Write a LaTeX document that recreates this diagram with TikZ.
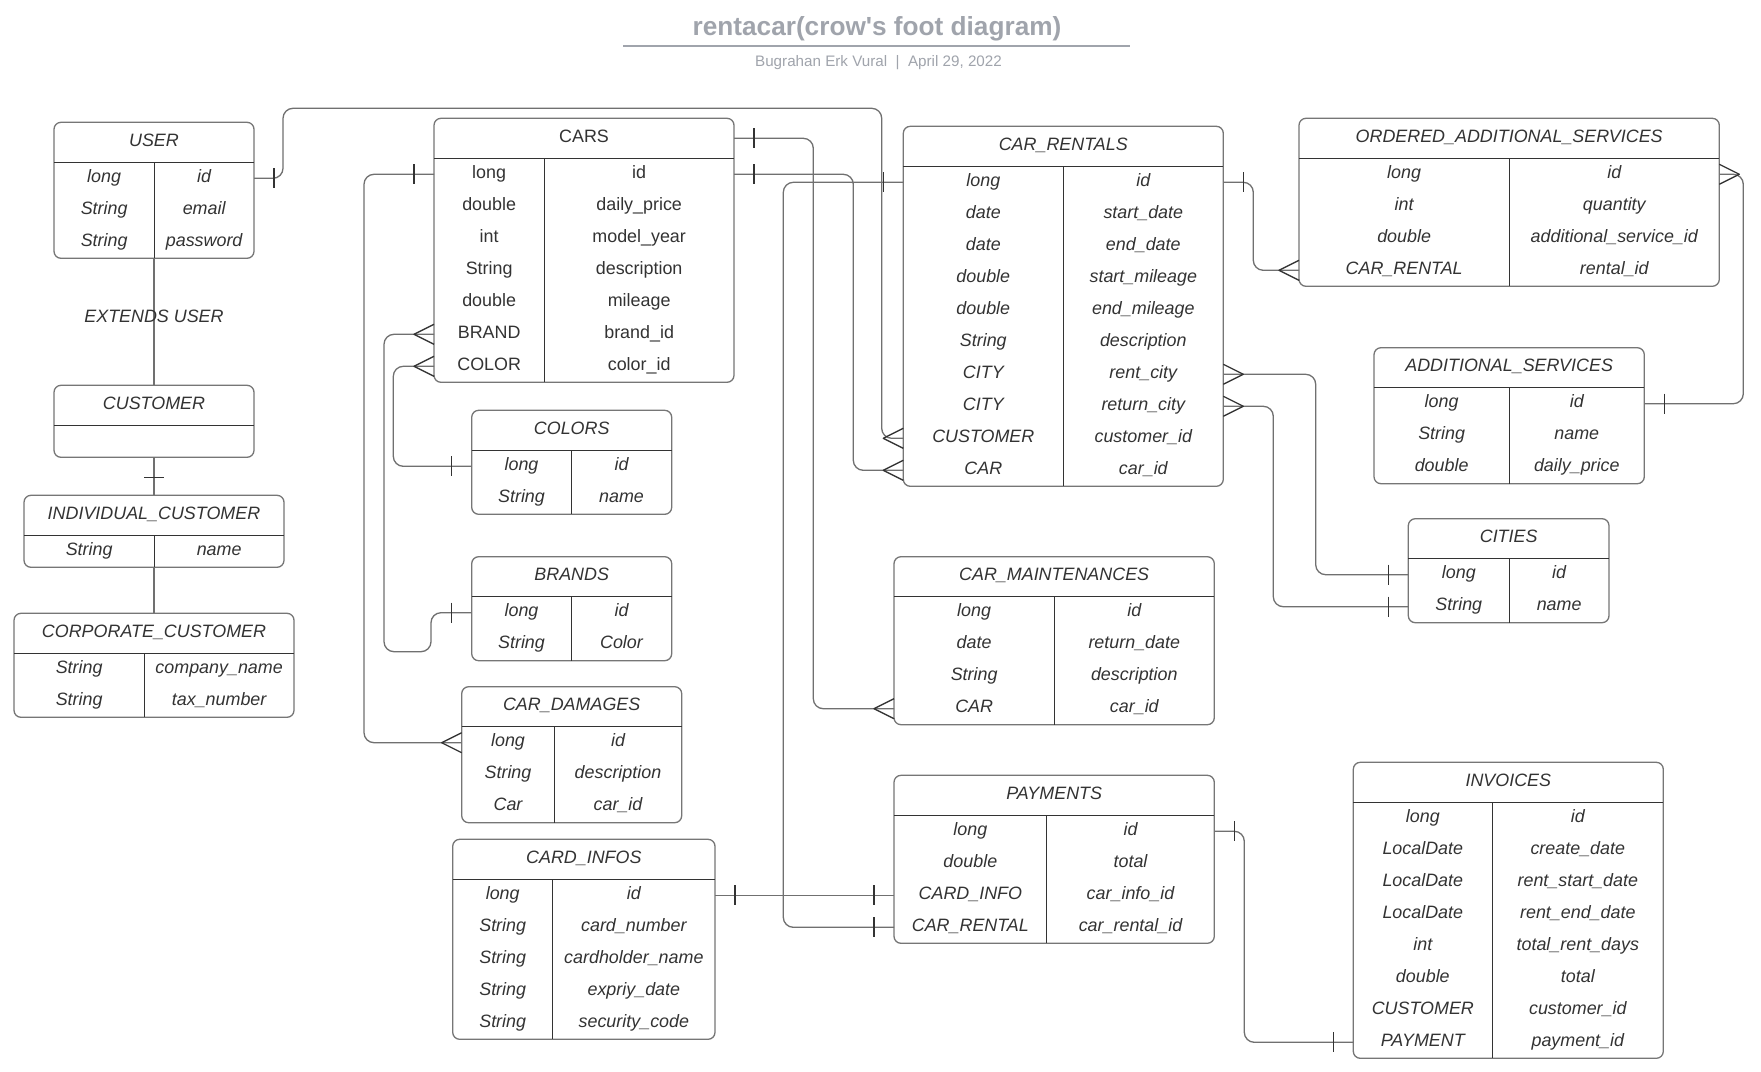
\documentclass[tikz,border=0pt]{standalone}
\usepackage{fontspec}
\setmainfont{Liberation Sans}

\definecolor{titlegray}{RGB}{160,164,172}
\definecolor{framegray}{RGB}{118,118,118}
\definecolor{inkgray}{RGB}{51,51,51}
\definecolor{wiregray}{RGB}{112,112,112}

\newcommand{\tabfont}{\fontsize{17.9}{21}\selectfont}

\newcommand{\enttable}[9][\itshape]{%
    \draw[boxframe] (#3,#4) rectangle (#5,#4+40+32*#7);
    \draw[boxrule] (#3,#4+40) -- (#5,#4+40);
    \draw[boxrule] (#6,#4+40) -- (#6,#4+40+32*#7);
    \node[celltext] (#2) at ({(#3+#5)/2},#4+24) {#1#8};
    \coordinate (#2-lh) at (#3,#4+20);
    \coordinate (#2-rh) at (#5,#4+20);
    \coordinate (#2-n) at ({(#3+#5)/2},#4);
    \coordinate (#2-s) at ({(#3+#5)/2},#4+40+32*#7);
    \foreach \ty/\fd [count=\rowi from 0] in {#9} {
        \node[celltext] (#2-a\rowi) at ({(#3+#6)/2},#4+60+32*\rowi) {#1\ty};
        \node[celltext] (#2-b\rowi) at ({(#6+#5)/2},#4+60+32*\rowi) {#1\fd};
        \coordinate (#2-l\rowi) at (#3,#4+56+32*\rowi);
        \coordinate (#2-r\rowi) at (#5,#4+56+32*\rowi);
    }
}
\newcommand{\onemark}[2]{\draw[markline] ([shift={(#2*20,-10)}]#1) -- ++(0,20);}
\newcommand{\manymark}[2]{\draw[markline] ([shift={(0,-10)}]#1) -- ([shift={(#2*20,0)}]#1) -- ([shift={(0,10)}]#1);}

\begin{document}
\begin{tikzpicture}[x=1pt, y=-1pt, line join=round,
        boxframe/.style={draw=framegray, line width=1.3pt, rounded corners=7pt},
        boxrule/.style={draw=inkgray, line width=1.1pt},
        celltext/.style={anchor=base, inner sep=0pt, font=\tabfont, text=inkgray},
        wire/.style={draw=wiregray, line width=1.3pt, rounded corners=10pt},
        markline/.style={draw=inkgray, line width=1.3pt}]
    \fill[white] (0,0) rectangle (1761,1071);
    \useasboundingbox (0,0) rectangle (1761,1071);

    \node[anchor=base, inner sep=0pt, font=\fontsize{26.2}{30}\selectfont\bfseries, text=titlegray]
        (ttl) at (877,35.5) {rentacar(crow\textquotesingle s foot diagram)};
    \draw[titlegray, line width=2pt] (623,45.5) -- (1130,45.5);
    \node[anchor=base, inner sep=0pt, font=\fontsize{15.2}{18}\selectfont, text=titlegray]
        (sub) at (878.5,66.5) {Bugrahan Erk Vural\ \ |\ \ April 29, 2022};

    \enttable{user}{54}{122.3}{254}{154.3}{3}{USER}{long/id, String/email, String/password}
    \draw[boxframe] (54,385.3) rectangle (254,457.3);
    \draw[boxrule] (54,425.3) -- (254,425.3);
    \node[celltext] (cust) at (154,409.3) {\itshape CUSTOMER};
    \coordinate (cust-n) at (154,385.3);
    \coordinate (cust-s) at (154,457.3);
    \enttable{indiv}{24}{495.3}{284}{154.3}{1}{INDIVIDUAL\_CUSTOMER}{String/name}
    \enttable{corp}{14}{613.3}{294}{144.3}{2}{CORPORATE\_CUSTOMER}{String/company\_name, String/tax\_number}

    \enttable[\upshape]{cars}{434}{118.3}{734}{544.3}{7}{CARS}{long/id, double/daily\_price, int/model\_year,
        String/description, double/mileage, BRAND/brand\_id, COLOR/color\_id}
    \enttable{colors}{471.7}{410.3}{671.7}{571.3}{2}{COLORS}{long/id, String/name}
    \enttable{brands}{471.7}{556.7}{671.7}{571.3}{2}{BRANDS}{long/id, String/Color}
    \enttable{dmg}{461.7}{686.7}{681.7}{554.3}{3}{CAR\_DAMAGES}{long/id, String/description, Car/car\_id}
    \enttable{card}{452.7}{839.3}{715}{552.7}{5}{CARD\_INFOS}{long/id, String/card\_number,
        String/cardholder\_name, String/expriy\_date, String/security\_code}

    \enttable{rent}{903.3}{126.3}{1223.3}{1063.3}{10}{CAR\_RENTALS}{long/id, date/start\_date, date/end\_date,
        double/start\_mileage, double/end\_mileage, String/description, CITY/rent\_city,
        CITY/return\_city, CUSTOMER/customer\_id, CAR/car\_id}
    \enttable{maint}{894}{556.7}{1214.3}{1054.3}{4}{CAR\_MAINTENANCES}{long/id, date/return\_date,
        String/description, CAR/car\_id}
    \enttable{pay}{894}{775.3}{1214.3}{1046.7}{4}{PAYMENTS}{long/id, double/total,
        CARD\_INFO/car\_info\_id, CAR\_RENTAL/car\_rental\_id}

    \enttable{oas}{1299}{118.3}{1719.3}{1509.3}{4}{ORDERED\_ADDITIONAL\_SERVICES}{long/id, int/quantity,
        double/additional\_service\_id, CAR\_RENTAL/rental\_id}
    \enttable{addsrv}{1374}{347.7}{1644.3}{1509.3}{3}{ADDITIONAL\_SERVICES}{long/id, String/name, double/daily\_price}
    \enttable{cities}{1408.3}{518.7}{1609}{1509.3}{2}{CITIES}{long/id, String/name}
    \enttable{inv}{1353.3}{762.3}{1663.3}{1492.3}{8}{INVOICES}{long/id, LocalDate/create\_date,
        LocalDate/rent\_start\_date, LocalDate/rent\_end\_date, int/total\_rent\_days, double/total,
        CUSTOMER/customer\_id, PAYMENT/payment\_id}

    \draw[wire] (user-s) -- (cust-n);
    \node[celltext] (ext) at (154,322) {\itshape EXTENDS USER};
    \draw[wire] (cust-s) -- (indiv-n);
    \draw[markline] ([shift={(-10,20)}]cust-s) -- ++(20,0);
    \draw[wire] (indiv-s) -- (corp-n);

    \draw[wire] (user-r0) -- ++(29,0) |- (881.7,108.3) |- (rent-l8);
    \onemark{user-r0}{1} \manymark{rent-l8}{-1}
    \draw[wire] (cars-rh) -- ++(79.3,0) |- (maint-l3);
    \onemark{cars-rh}{1} \manymark{maint-l3}{-1}
    \draw[wire] (cars-r0) -- ++(119.3,0) |- (rent-l9);
    \onemark{cars-r0}{1} \manymark{rent-l9}{-1}
    \draw[wire] (rent-l0) -- ++(-120,0) |- (pay-l3);
    \onemark{rent-l0}{-1} \onemark{pay-l3}{-1}
    \draw[wire] (cars-l0) -- ++(-70,0) |- (dmg-l0);
    \onemark{cars-l0}{-1} \manymark{dmg-l0}{-1}
    \draw[wire] (cars-l5) -- ++(-50,0) |- (431,651.7) |- (brands-l0);
    \manymark{cars-l5}{-1} \onemark{brands-l0}{-1}
    \draw[wire] (cars-l6) -- ++(-40.7,0) |- (colors-l0);
    \manymark{cars-l6}{-1} \onemark{colors-l0}{-1}
    \draw[wire] (card-r0) -- (pay-l2);
    \onemark{card-r0}{1} \onemark{pay-l2}{-1}
    \draw[wire] (pay-r0) -- ++(30,0) |- (inv-l7);
    \onemark{pay-r0}{1} \onemark{inv-l7}{-1}
    \draw[wire] (rent-r0) -- ++(30,0) |- (oas-l3);
    \onemark{rent-r0}{1} \manymark{oas-l3}{-1}
    \draw[wire] (rent-r6) -- ++(92.4,0) |- (cities-l0);
    \manymark{rent-r6}{1} \onemark{cities-l0}{-1}
    \draw[wire] (rent-r7) -- ++(50,0) |- (cities-l1);
    \manymark{rent-r7}{1} \onemark{cities-l1}{-1}
    \draw[wire] (oas-r0) -- ++(24,0) |- (addsrv-r0);
    \manymark{oas-r0}{1} \onemark{addsrv-r0}{1}
\end{tikzpicture}
\end{document}
